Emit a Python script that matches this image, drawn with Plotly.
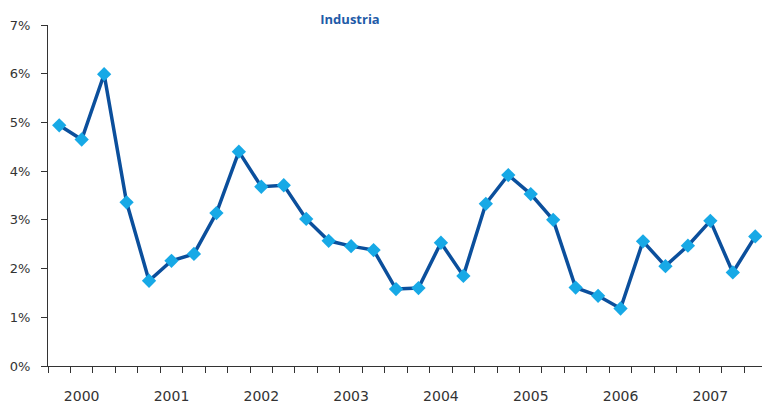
import plotly.graph_objects as go

title_text = "Industria"
quarters = list(range(32))
values = [4.94, 4.65, 5.99, 3.36, 1.75, 2.16, 2.30, 3.14,
          4.40, 3.68, 3.71, 3.02, 2.57, 2.46, 2.38, 1.58,
          1.60, 2.53, 1.85, 3.33, 3.92, 3.53, 3.00, 1.61,
          1.44, 1.18, 2.56, 2.05, 2.47, 2.98, 1.92, 2.66]
year_labels = ["2000", "2001", "2002", "2003", "2004", "2005", "2006", "2007"]
year_positions = [1, 5, 9, 13, 17, 21, 25, 29]
y_ticks = [0, 1, 2, 3, 4, 5, 6, 7]
y_tick_labels = ["0%", "1%", "2%", "3%", "4%", "5%", "6%", "7%"]

fig = go.Figure()
fig.add_trace(go.Scatter(
    x=quarters, y=values, mode="lines+markers",
    line=dict(color="#0b4f9c", width=3.5),
    marker=dict(symbol="diamond", size=11, color="#17a9e6"),
    showlegend=False, hoverinfo="skip", cliponaxis=False,
))

axis_font = dict(family="DejaVu Sans", size=13, color="#333333")

fig.update_layout(
    width=762, height=403,
    margin=dict(l=48, r=0, t=25, b=37),
    paper_bgcolor="white", plot_bgcolor="white",
    title=dict(text="<b>" + title_text + "</b>", x=350 / 762, xanchor="center",
               y=1 - 19.5 / 403, yanchor="middle", xref="container", yref="container",
               font=dict(family="Open Sans", size=13, color="#1f5ba8")),
    xaxis=dict(
        range=[-0.5, 31.3], tickmode="array", tickvals=year_positions, ticktext=year_labels,
        ticks="", showgrid=False, zeroline=False, automargin=False,
        showline=True, linecolor="#333333", linewidth=1,
        tickfont=dict(family="DejaVu Sans", size=14, color="#333333"),
        ticklabelstandoff=17,
        minor=dict(tick0=-0.5, dtick=1, ticks="outside", ticklen=6,
                   tickcolor="#333333", tickwidth=1, showgrid=False),
    ),
    yaxis=dict(
        range=[0, 7], tickmode="array", tickvals=y_ticks, ticktext=y_tick_labels,
        ticks="outside", ticklen=6, tickcolor="#333333", tickwidth=1,
        showgrid=False, zeroline=False, automargin=False,
        showline=True, linecolor="#333333", linewidth=1,
        tickfont=axis_font, ticklabelstandoff=8,
    ),
)

fig.write_html("out.html", config={"displayModeBar": False},
               post_script="document.body.style.margin='0';document.body.style.overflow='hidden';")
